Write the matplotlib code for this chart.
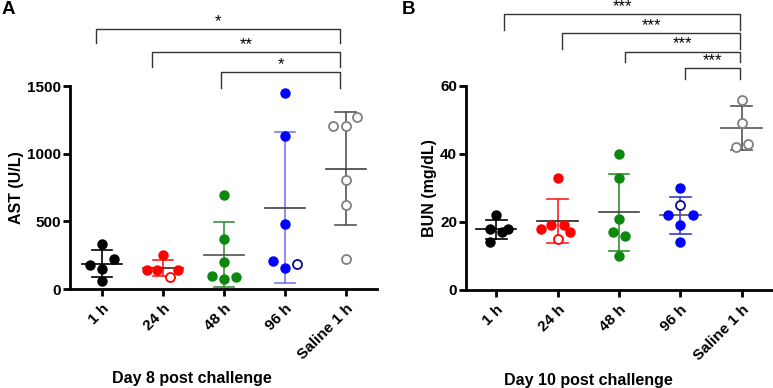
import numpy as np
import matplotlib
matplotlib.use("Agg")
import matplotlib.pyplot as plt

plt.rcParams['font.family'] = ['Liberation Sans', 'DejaVu Sans']
plt.rcParams['font.weight'] = 'bold'

groups = ['1 h', '24 h', '48 h', '96 h', 'Saline 1 h']

# panel A, AST (U/L), day 8
ast = [
    [330, 177, 150, 220, 57],
    [253, 140, 140, 140, 91],
    [692, 367, 202, 96, 72, 91],
    [1451, 1131, 480, 209, 157, 182],
    [1204, 1204, 1273, 805, 621, 222],
]
ast_open = [[], [4], [], [5], [0, 1, 2, 3, 4, 5]]
ast_dx = [
    [0, -0.2, 0, 0.2, 0],
    [0, -0.26, -0.1, 0.24, 0.12],
    [0, 0, 0, -0.2, 0, 0.2],
    [0, 0, 0, -0.2, 0, 0.2],
    [-0.21, 0, 0.19, 0, 0, 0],
]

# panel B, BUN (mg/dL), day 10
bun = [
    [22, 18, 17, 18, 14],
    [33, 18, 19, 19, 17, 15],
    [40, 33, 21, 17, 16, 10],
    [30, 25, 22, 22, 19, 14],
    [56, 49, 43, 42],
]
bun_open = [[], [5], [], [1], [0, 1, 2, 3]]
bun_dx = [
    [0, -0.1, 0.1, 0.2, -0.1],
    [0, -0.27, -0.1, 0.1, 0.2, 0],
    [0, 0, 0, -0.1, 0.1, 0],
    [0, 0, -0.2, 0.2, 0, 0],
    [0, 0, 0.1, -0.1],
]

ast_sig = [(-0.1, 3.9, 1919, 1816, '*'), (0.82, 3.9, 1754, 1643, '**'), (1.96, 3.9, 1606, 1488, '*')]
bun_sig = [(0.13, 3.98, 81, 76.5, '***'), (1.07, 3.98, 75.5, 70.8, '***'),
           (2.1, 3.98, 70.1, 66.9, '***'), (3.07, 3.98, 65.2, 62.1, '***')]

pt_colors = ['#000000', '#ff0000', '#0e870e', '#0000ff', '#808080']
A_bar = ['#000000', '#ff2020', '#3f8f3f', '#7878f0', '#555555']
A_mean = ['#000000', '#552020', '#505050', '#404040', '#404040']
B_bar = ['#000000', '#ff2020', '#2f8f2f', '#3a3ad0', '#555555']
B_mean = ['#000000', '#202020', '#404040', '#555555', '#555555']
open_edge = ['#000000', '#ff0000', '#0e870e', '#0a0a90', '#808080']


def draw(ax, data, opens, dx, bar_c, mean_c, sig, ylim, yticks, ylabel, xlabel, step):
    for i, vals in enumerate(data):
        vals = np.array(vals, dtype=float)
        m = vals.mean()
        sd = vals.std(ddof=1)
        ax.plot([i, i], [m - sd, m + sd], color=bar_c[i], lw=1.2, zorder=2, clip_on=False)
        ax.plot([i - 0.17, i + 0.17], [m + sd, m + sd], color=bar_c[i], lw=1.2, zorder=2, clip_on=False)
        ax.plot([i - 0.17, i + 0.17], [m - sd, m - sd], color=bar_c[i], lw=1.2, zorder=2, clip_on=False)
        ax.plot([i - 0.33, i + 0.33], [m, m], color=mean_c[i], lw=1.2, zorder=2)
        for j, v in enumerate(vals):
            if j in opens[i]:
                ax.plot(i + dx[i][j], v, 'o', ms=6.5, mfc='white', mec=open_edge[i], mew=1.3, zorder=3)
            else:
                ax.plot(i + dx[i][j], v, 'o', ms=6.5, color=pt_colors[i], zorder=3)
    for x0, x1, yl, yd, s in sig:
        ax.plot([x0, x0, x1, x1], [yd, yl, yl, yd], color='#333333', lw=1, clip_on=False)
        ax.text((x0 + x1) / 2, yl + step, s, ha='center', va='center', fontsize=12, fontweight='normal')
    ax.set_ylim(ylim)
    ax.set_yticks(yticks)
    ax.set_xticks(range(len(groups)))
    ax.set_xticklabels(groups, rotation=45, ha='right', rotation_mode='anchor')
    ax.set_ylabel(ylabel, fontsize=11.5, fontweight='bold', labelpad=2)
    ax.set_xlabel(xlabel, fontsize=11.5, fontweight='bold')
    ax.xaxis.set_label_coords(0.397, -0.405)
    for side in ['top', 'right']:
        ax.spines[side].set_visible(False)
    for side in ['left', 'bottom']:
        ax.spines[side].set_linewidth(2)
    ax.tick_params(width=2, length=5, labelsize=11)
    ax.tick_params(axis='y', pad=1.5)
    ax.tick_params(axis='x', pad=4)


fig = plt.figure(figsize=(7.73, 3.88), dpi=100)
axA = fig.add_axes([0.0906, 0.255, 0.397, 0.523])
axB = fig.add_axes([0.603, 0.2526, 0.397, 0.526])

draw(axA, ast, ast_open, ast_dx, A_bar, A_mean, ast_sig, (0, 1500), [0, 500, 1000, 1500],
     'AST (U/L)', 'Day 8 post challenge', 55)
axA.set_xlim(-0.525, 4.51)
draw(axB, bun, bun_open, bun_dx, B_bar, B_mean, bun_sig, (0, 60), [0, 20, 40, 60],
     'BUN (mg/dL)', 'Day 10 post challenge', 2.2)
axB.set_xlim(-0.49, 4.51)

fig.text(0.002, 0.997, 'A', fontsize=13.5, fontweight='bold', va='top')
fig.text(0.520, 0.997, 'B', fontsize=13.5, fontweight='bold', va='top')

fig.savefig('out.png', dpi=100)
